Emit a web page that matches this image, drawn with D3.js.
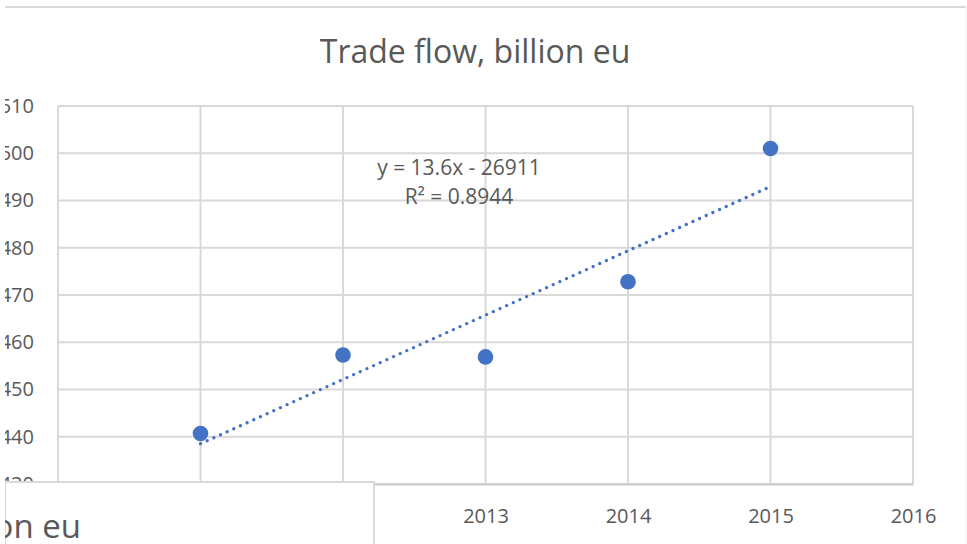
<!DOCTYPE html>
<html>
<head>
<meta charset="utf-8">
<script src="https://cdn.jsdelivr.net/npm/d3@7"></script>
<style>
  body { margin: 0; background: #fff; }
  text { font-family: "Open Sans", sans-serif; fill: #595959; }
</style>
</head>
<body>
<script>
// Data
const years = [2011, 2012, 2013, 2014, 2015];
const values = [440.7, 457.3, 456.9, 472.8, 501.0];
const yTicks = [430, 440, 450, 460, 470, 480, 490, 500, 510];
const xTicks = [2010, 2011, 2012, 2013, 2014, 2015, 2016];
const xLabels = [2013, 2014, 2015, 2016]; // the others sit under the box
const trendLabels = ["y = 13.6x - 26911", "R² = 0.8944"];
const title = "Trade flow, billion eu";
const axisTitle = "billion eu";

const W = 967, H = 544;
const plot = { left: 58, right: 913, top: 106, bottom: 484 };
const blue = "#4472C4", grid = "#d9d9d9";

const svg = d3.select("body").append("svg")
  .attr("width", W).attr("height", H);

// clip everything left of the chart frame
svg.append("defs").append("clipPath").attr("id", "frame")
  .append("rect").attr("x", 5).attr("y", 0).attr("width", W - 5).attr("height", H);

const g = svg.append("g").attr("clip-path", "url(#frame)");

// chart frame lines
g.append("line").attr("x1", 5).attr("x2", 966).attr("y1", 7).attr("y2", 7)
  .attr("stroke", grid).attr("stroke-width", 2);
g.append("line").attr("x1", 966).attr("x2", 966).attr("y1", 7).attr("y2", H)
  .attr("stroke", "#ececec").attr("stroke-width", 1);

// Scales
const x = d3.scaleLinear().domain([2010, 2016]).range([plot.left, plot.right]);
const y = d3.scaleLinear().domain([430, 510]).range([plot.bottom, plot.top]);

// Gridlines
g.append("g").selectAll("line").data(yTicks).join("line")
  .attr("x1", plot.left).attr("x2", plot.right)
  .attr("y1", d => y(d)).attr("y2", d => y(d))
  .attr("stroke", grid).attr("stroke-width", 2);
g.append("g").selectAll("line").data(xTicks).join("line")
  .attr("x1", d => x(d)).attr("x2", d => x(d))
  .attr("y1", plot.top).attr("y2", plot.bottom)
  .attr("stroke", grid).attr("stroke-width", 2);

// Y axis labels
const yAxis = g.append("g")
  .attr("transform", `translate(${plot.left},0)`)
  .call(d3.axisLeft(y).tickValues(yTicks).tickSize(0).tickPadding(24).tickFormat(d3.format("d")));
yAxis.select(".domain").remove();
yAxis.selectAll("text").attr("font-size", 20).attr("font-family", "Open Sans").attr("fill", "#595959");

// X axis
const xAxis = g.append("g")
  .attr("transform", `translate(0,${plot.bottom})`)
  .call(d3.axisBottom(x).tickValues(xLabels).tickSize(0).tickPadding(25).tickFormat(d3.format("d")));
xAxis.select(".domain").attr("stroke", "#cccccc").attr("stroke-width", 2);
xAxis.selectAll("text").attr("font-size", 20).attr("font-family", "Open Sans").attr("fill", "#595959");

// Trend line (least squares)
const n = years.length;
const mx = d3.mean(years), my = d3.mean(values);
const slope = d3.sum(years, (d, i) => (d - mx) * (values[i] - my)) / d3.sum(years, d => (d - mx) ** 2);
const icpt = my - slope * mx;
const ends = [years[0], years[n - 1]];
g.append("path")
  .datum(ends)
  .attr("d", d3.line().x(d => x(d)).y(d => y(slope * d + icpt)))
  .attr("stroke", blue).attr("stroke-width", 3.2)
  .attr("stroke-linecap", "round").attr("stroke-dasharray", "0.1 7.2")
  .attr("fill", "none");

// Points
g.append("g").selectAll("circle").data(years).join("circle")
  .attr("cx", d => x(d)).attr("cy", (d, i) => y(values[i]))
  .attr("r", 7.8).attr("fill", blue);

// Trend equation
g.append("g").selectAll("text").data(trendLabels).join("text")
  .attr("x", 459).attr("y", (d, i) => 175 + i * 29)
  .attr("text-anchor", "middle").attr("font-size", 21)
  .text(d => d);

// Title
g.append("text").attr("x", 475).attr("y", 63)
  .attr("text-anchor", "middle").attr("font-size", 32)
  .text(title);

// Overlapping box at the bottom left
svg.append("defs").append("clipPath").attr("id", "box")
  .append("rect").attr("x", 5).attr("y", 482).attr("width", 369).attr("height", 70);
g.append("rect").attr("x", 5).attr("y", 482).attr("width", 369).attr("height", 80)
  .attr("fill", "#fff").attr("stroke", grid).attr("stroke-width", 2);
g.append("g").attr("clip-path", "url(#box)")
  .append("text").attr("x", 81).attr("y", 538)
  .attr("text-anchor", "end").attr("font-size", 33)
  .text(axisTitle);
</script>
</body>
</html>
